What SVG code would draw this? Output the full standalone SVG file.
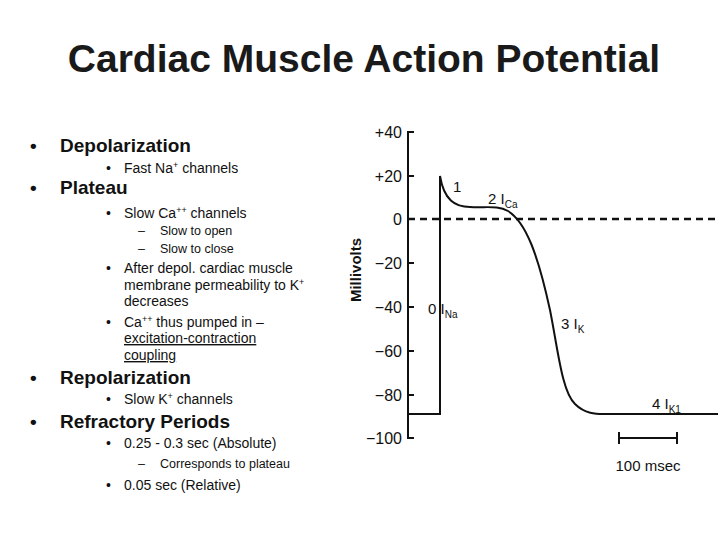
<svg xmlns="http://www.w3.org/2000/svg" width="728" height="546" viewBox="0 0 728 546">
<style>
text{font-family:"Liberation Sans",Arial,sans-serif;fill:#111}
.h{font-size:19px;font-weight:bold}
.s{font-size:14px}
.t{font-size:12.5px}
.ax{font-size:16px;text-anchor:end}
.l{font-size:15px}
.sub{font-size:10px}
.ln{stroke:#111;stroke-width:2;fill:none}
</style>
<rect width="728" height="546" fill="#fff"/>
<text x="364" y="72" text-anchor="middle" style="font-size:39px;font-weight:bold;fill:#1a1a1a">Cardiac Muscle Action Potential</text>
<g id="bullets">
<text x="30" y="152" class="h">•</text><text x="60" y="152" class="h">Depolarization</text>
<text x="106" y="173" class="s">•</text><text x="124" y="173" class="s">Fast Na<tspan dy="-5" font-size="9">+</tspan><tspan dy="5"> channels</tspan></text>
<text x="30" y="194" class="h">•</text><text x="60" y="194" class="h">Plateau</text>
<text x="106" y="218" class="s">•</text><text x="124" y="218" class="s">Slow Ca<tspan dy="-5" font-size="9">++</tspan><tspan dy="5"> channels</tspan></text>
<text x="138" y="235" class="t">–</text><text x="160" y="235" class="t">Slow to open</text>
<text x="138" y="253" class="t">–</text><text x="160" y="253" class="t">Slow to close</text>
<text x="106" y="273" class="s">•</text><text x="124" y="273" class="s">After depol. cardiac muscle</text>
<text x="124" y="290" class="s">membrane permeability to K<tspan dy="-5" font-size="9">+</tspan></text>
<text x="124" y="306" class="s">decreases</text>
<text x="106" y="327" class="s">•</text><text x="124" y="327" class="s">Ca<tspan dy="-5" font-size="9">++</tspan><tspan dy="5"> thus pumped in –</tspan></text>
<text x="124" y="343" class="s" text-decoration="underline">excitation-contraction</text>
<text x="124" y="360" class="s" text-decoration="underline">coupling</text>
<text x="30" y="384" class="h">•</text><text x="60" y="384" class="h">Repolarization</text>
<text x="106" y="404" class="s">•</text><text x="124" y="404" class="s">Slow K<tspan dy="-5" font-size="9">+</tspan><tspan dy="5"> channels</tspan></text>
<text x="30" y="428" class="h">•</text><text x="60" y="428" class="h">Refractory Periods</text>
<text x="106" y="448" class="s">•</text><text x="124" y="448" class="s">0.25 - 0.3 sec (Absolute)</text>
<text x="138" y="468" class="t">–</text><text x="160" y="468" class="t">Corresponds to plateau</text>
<text x="106" y="490" class="s">•</text><text x="124" y="490" class="s">0.05 sec (Relative)</text>
</g>
<g id="axis">
<path class="ln" d="M414 132H408V438H414 M408 176H414 M408 263H414 M408 307H414 M408 351H414 M408 395H414"/>
<text x="402" y="138" class="ax">+40</text>
<text x="402" y="182" class="ax">+20</text>
<text x="402" y="225" class="ax">0</text>
<text x="402" y="269" class="ax">−20</text>
<text x="402" y="313" class="ax">−40</text>
<text x="402" y="357" class="ax">−60</text>
<text x="402" y="401" class="ax">−80</text>
<text x="402" y="444" class="ax">−100</text>
<text transform="translate(361,270) rotate(-90)" text-anchor="middle" style="font-size:15px;font-weight:bold">Millivolts</text>
</g>
<g id="curve">
<path d="M408 219H718" stroke="#111" stroke-width="2.5" stroke-dasharray="7,5" fill="none"/>
<path class="ln" d="M408 414H440V176 C444 200 455 207 470 207 C485 208 498 205 508 211 C526 222 538 255 550 310 C558 350 562 392 575 404 C585 414 596 414 604 414H718"/>
<path class="ln" d="M619 432V444M619 438H677M677 432V444"/>
</g>
<g id="labels">
<text x="453" y="192" class="l">1</text>
<text x="488" y="204" class="l">2 I<tspan dy="4" class="sub">Ca</tspan></text>
<text x="428" y="314" class="l">0 I<tspan dy="4" class="sub">Na</tspan></text>
<text x="561" y="329" class="l">3 I<tspan dy="4" class="sub">K</tspan></text>
<text x="652" y="409" class="l">4 I<tspan dy="4" class="sub">K1</tspan></text>
<text x="648" y="471" text-anchor="middle" class="l">100 msec</text>
</g>
</svg>
